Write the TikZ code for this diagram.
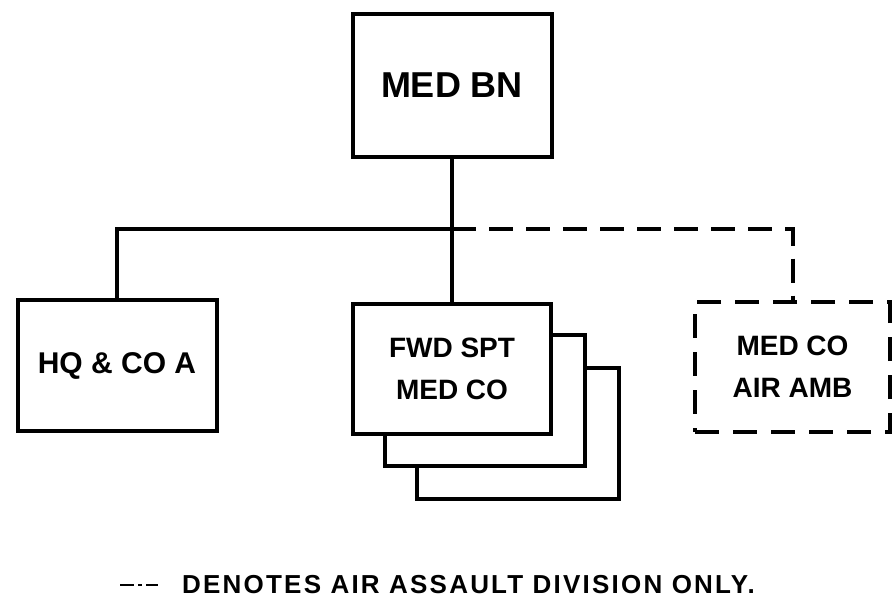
\documentclass[tikz,border=0pt]{standalone}
\usepackage{fontspec}
\setmainfont{Liberation Sans}
\newfontfamily\widefont{Liberation Sans}[LetterSpace=8.5]
\begin{document}
\begin{tikzpicture}[x=1pt,y=-1pt,
  unit/.style={draw=black,line width=4pt,fill=white,inner sep=0pt,align=center,font=\bfseries\fontsize{28}{42}\selectfont},
  dashunit/.style={unit,dash pattern=on 24pt off 14pt},
  link/.style={line width=4pt},
  dlink/.style={line width=4pt,dash pattern=on 24pt off 13pt}]
\useasboundingbox (0,0) rectangle (892,598);
\node[unit,minimum width=199pt,minimum height=143pt,font=\bfseries\fontsize{36}{40}\selectfont] (bn) at (452,85.5) {MED BN};
\node[unit,minimum width=199pt,minimum height=131pt,font=\bfseries\fontsize{30}{36}\selectfont] (hq) at (117,365.5) {HQ \& CO A};
\node[unit,minimum width=202pt,minimum height=131pt] (fwd3) at (518,433.5) {};
\node[unit,minimum width=200pt,minimum height=131pt] (fwd2) at (485,400.5) {};
\node[unit,minimum width=198pt,minimum height=130pt] (fwd) at (452,369) {FWD SPT\\MED CO};
\node[dashunit,minimum width=195pt,minimum height=130pt] (amb) at (792.5,367) {MED CO\\AIR AMB};
\coordinate (bus) at (452,229);
\draw[link] (bn.south) -- (fwd.north);
\draw[link] (hq.north) |- (bus);
\draw[dlink] (bus) -| (amb.north);
\coordinate (lgA) at (120,585);
\coordinate (lgB) at (158,585);
\draw[line width=2.5pt,dash pattern=on 14pt off 4pt on 4pt off 4pt] (lgA) -- (lgB);
\node[anchor=base west,inner sep=0pt,font=\widefont\bfseries\fontsize{26}{32}\selectfont] (legend) at (182,593) {DENOTES AIR ASSAULT DIVISION ONLY.};
\end{tikzpicture}
\end{document}
